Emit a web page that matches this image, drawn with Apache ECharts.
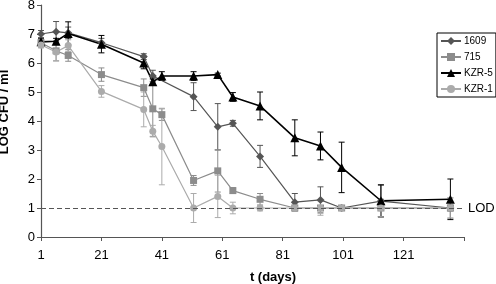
<!DOCTYPE html>
<html><head><meta charset="utf-8">
<script src="https://cdn.jsdelivr.net/npm/echarts@6/dist/echarts.min.js"></script>
<style>html,body{margin:0;padding:0;background:#fff}#c{width:496px;height:284px}</style>
</head><body><div id="c"></div>
<script>
var days = [1, 6, 10, 21, 35, 38, 41, 51.5, 59.5, 64.5, 73.5, 85, 93.5, 100.5, 113.5, 136.5];
var xTickLabels = [1, 21, 41, 61, 81, 101, 121];
var yTickLabels = [0, 1, 2, 3, 4, 5, 6, 7, 8];
var seriesNames = ['1609', '715', 'KZR-5', 'KZR-1'];
var v1609 = [7.0, 7.08, 7.04, 6.7, 6.22, 5.55, null, 4.84, 3.8, 3.92, 2.78, 1.2, 1.28, 1.0, 1.24, 1.0];
var v715  = [6.7, 6.42, 6.26, 5.6, 5.15, 4.42, 4.22, 1.95, 2.28, 1.6, 1.3, 1.0, 1.0, 1.0, 1.0, 1.0];
var vKZR5 = [6.73, 6.75, 7.02, 6.65, 6.0, 5.35, 5.55, 5.55, 5.6, 4.83, 4.52, 3.42, 3.14, 2.4, 1.25, 1.3];
var vKZR1 = [6.62, 6.38, 6.6, 5.02, 4.4, 3.65, 3.12, 1.0, 1.4, 1.0, 1.0, 1.0, 1.0, 1.0, 1.0, 1.0];
var e1609 = [0.12, 0.35, 0.2, 0.15, 0.1, 0.2, null, 0.48, 0.8, 0.1, 0.38, 0.3, 0.45, 0.05, 0.55, 0.1];
var e715  = [0.15, 0.35, 0.2, 0.23, 0.3, 0.95, 0.2, 0.17, 0.73, 0.1, 0.2, 0.05, 0.05, 0.05, 0.3, 0.35];
var eKZR5 = [0.1, 0.1, 0.4, 0.3, 0.2, 0.1, 0.15, 0.15, 0.05, 0.15, 0.48, 0.62, 0.48, 0.87, 0.55, 0.7];
var eKZR1 = [0.1, 0.3, 0.2, 0.2, 0.6, 0.2, 1.32, 0.5, 0.73, 0.2, 0.1, 0.1, 0.25, 0.05, 0.3, 0.35];
var LOD = 1;

var FONT = 'Liberation Sans';
var cols = ['#555555', '#8c8c8c', '#000000', '#ababab'];
var syms = ['diamond', 'rect', 'triangle', 'circle'];
var symSizes = [8, 7, 9, 7];
var widths = [1.2, 1.2, 1.6, 1.2];
var vals = [v1609, v715, vKZR5, vKZR1];
var errs = [e1609, e715, eKZR5, eKZR1];

function pts(v) { return days.map(function (d, i) { return [d - 1, v[i]]; }); }
function errPts(v, e) {
  var out = [];
  days.forEach(function (d, i) {
    if (v[i] != null && e[i] != null) out.push([d - 1, v[i] - e[i], v[i] + e[i]]);
  });
  return out;
}

var series = [];
seriesNames.forEach(function (n, k) {
  series.push({
    type: 'custom', name: n + '_err', silent: true, z: 1,
    data: errPts(vals[k], errs[k]),
    encode: { x: 0, y: [1, 2] },
    renderItem: function (params, api) {
      var lo = api.coord([api.value(0), api.value(1)]);
      var hi = api.coord([api.value(0), api.value(2)]);
      var w = 3;
      var st = { stroke: cols[k], lineWidth: 1 };
      return { type: 'group', children: [
        { type: 'line', shape: { x1: lo[0], y1: lo[1], x2: hi[0], y2: hi[1] }, style: st },
        { type: 'line', shape: { x1: lo[0] - w, y1: lo[1], x2: lo[0] + w, y2: lo[1] }, style: st },
        { type: 'line', shape: { x1: hi[0] - w, y1: hi[1], x2: hi[0] + w, y2: hi[1] }, style: st }
      ]};
    }
  });
});
seriesNames.forEach(function (n, k) {
  var s = {
    type: 'line', name: n, data: pts(vals[k]), connectNulls: true, z: 3,
    symbol: syms[k], symbolSize: symSizes[k], showAllSymbol: true,
    lineStyle: { color: cols[k], width: widths[k] },
    itemStyle: { color: cols[k] },
    animation: false
  };
  if (k === 0) {
    s.markLine = {
      silent: true, symbol: 'none', animation: false,
      lineStyle: { color: '#555', type: [5, 3], width: 1.2 },
      label: { show: true, position: 'end', formatter: 'LOD', color: '#000', fontFamily: FONT, fontSize: 13, distance: 4 },
      data: [{ yAxis: LOD }]
    };
  }
  series.push(s);
});

var chart = echarts.init(document.getElementById('c'));
chart.setOption({
  animation: false,
  backgroundColor: '#fff',
  grid: { left: 41, right: 32, top: 5, bottom: 47, containLabel: false, outerBoundsMode: 'none' },
  legend: {
    data: seriesNames, orient: 'vertical', left: 437, top: 33,
    borderColor: '#000', borderWidth: 1, borderRadius: 0, padding: [3, 3, 3, 3],
    itemWidth: 20, itemHeight: 10, itemGap: 6,
    textStyle: { fontFamily: FONT, fontSize: 10, color: '#000', padding: [0, 0, 0, -2] }
  },
  xAxis: {
    type: 'value', min: 0, max: 140, interval: 20,
    name: 't (days)', nameLocation: 'middle', nameGap: 34,
    nameTextStyle: { fontFamily: FONT, fontSize: 13, fontWeight: 'bold', color: '#000', padding: [0, 0, 0, 41] },
    axisLine: { show: true, onZero: false, lineStyle: { color: '#555', width: 1.2 } },
    axisTick: { show: true, inside: false, length: 4, lineStyle: { color: '#555' } },
    axisLabel: { fontFamily: FONT, fontSize: 13, color: '#000', margin: 12,
      formatter: function (v) { var d = v + 1; return xTickLabels.indexOf(d) >= 0 ? String(d) : ''; } },
    splitLine: { show: false }
  },
  yAxis: {
    type: 'value', min: 0, max: 8, interval: 1,
    name: 'LOG CFU / ml', nameLocation: 'middle', nameGap: 30, nameRotate: 90,
    nameTextStyle: { fontFamily: FONT, fontSize: 13, fontWeight: 'bold', color: '#000', padding: [0, 0, 0, 18] },
    axisLine: { show: true, lineStyle: { color: '#555', width: 1.2 } },
    axisTick: { show: true, length: 4, lineStyle: { color: '#555' } },
    axisLabel: { fontFamily: FONT, fontSize: 13, color: '#000', margin: 6,
      formatter: function (v) { return yTickLabels.indexOf(v) >= 0 ? String(v) : ''; } },
    splitLine: { show: false }
  },
  series: series
});
</script></body></html>
